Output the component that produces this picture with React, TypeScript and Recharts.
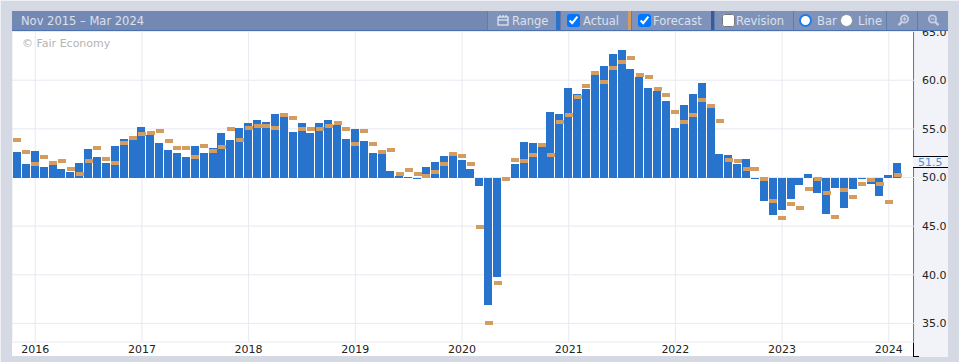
import { Bar, CartesianGrid, ComposedChart, Line, ReferenceLine, XAxis, YAxis } from 'recharts'

const months = [
  '2015-11', '2015-12',
  '2016-01', '2016-02', '2016-03', '2016-04', '2016-05', '2016-06', '2016-07', '2016-08', '2016-09', '2016-10', '2016-11', '2016-12',
  '2017-01', '2017-02', '2017-03', '2017-04', '2017-05', '2017-06', '2017-07', '2017-08', '2017-09', '2017-10', '2017-11', '2017-12',
  '2018-01', '2018-02', '2018-03', '2018-04', '2018-05', '2018-06', '2018-07', '2018-08', '2018-09', '2018-10', '2018-11', '2018-12',
  '2019-01', '2019-02', '2019-03', '2019-04', '2019-05', '2019-06', '2019-07', '2019-08', '2019-09', '2019-10', '2019-11', '2019-12',
  '2020-01', '2020-02', '2020-03', '2020-04', '2020-05', '2020-06', '2020-07', '2020-08', '2020-09', '2020-10', '2020-11', '2020-12',
  '2021-01', '2021-02', '2021-03', '2021-04', '2021-05', '2021-06', '2021-07', '2021-08', '2021-09', '2021-10', '2021-11', '2021-12',
  '2022-01', '2022-02', '2022-03', '2022-04', '2022-05', '2022-06', '2022-07', '2022-08', '2022-09', '2022-10', '2022-11', '2022-12',
  '2023-01', '2023-02', '2023-03', '2023-04', '2023-05', '2023-06', '2023-07', '2023-08', '2023-09', '2023-10', '2023-11', '2023-12',
  '2024-01', '2024-02', '2024-03',
]

const actual = [
  52.6, 51.4,
  52.7, 51.1, 51.3, 50.9, 50.6, 51.5, 52.9, 52.1, 51.5, 53.2, 54.0, 53.9,
  55.2, 54.4, 53.5, 52.8, 52.5, 52.1, 53.2, 52.5, 53.0, 54.6, 53.9, 55.1,
  55.6, 55.9, 55.7, 56.5, 56.2, 54.7, 55.6, 54.6, 55.6, 55.9, 55.4, 54.0,
  55.0, 53.8, 52.5, 52.4, 50.7, 50.2, 50.1, 49.9, 51.1, 51.6, 52.2, 52.2,
  51.8, 50.9, 49.1, 36.9, 39.8, 49.6, 51.4, 53.6, 53.5, 53.1, 56.7, 56.5,
  59.2, 58.6, 59.1, 60.5, 61.5, 62.7, 63.1, 61.2, 60.3, 59.2, 58.9, 57.9,
  55.1, 57.5, 58.6, 59.7, 57.2, 52.4, 52.3, 51.4, 51.9, 49.8, 47.6, 46.1,
  46.7, 47.8, 49.2, 50.4, 48.4, 46.2, 48.9, 46.9, 48.8, 49.9, 49.3, 48.1,
  50.3, 51.5, null,
]

const forecast = [
  53.9, 52.6,
  51.4, 52.1, 51.5, 51.7, 50.9, 50.4, 51.7, 53.0, 51.9, 51.5, 53.5, 54.1,
  54.5, 54.6, 54.8, 53.8, 53.0, 53.0, 52.1, 53.2, 52.7, 53.1, 55.0, 53.9,
  55.1, 55.3, 55.3, 55.1, 56.4, 56.1, 55.0, 55.0, 55.0, 55.3, 55.6, 55.0,
  53.4, 54.8, 53.4, 52.6, 52.8, 50.4, 50.8, 50.4, 50.2, 50.6, 51.4, 52.4,
  52.2, 51.4, 44.9, 35.0, 39.2, 49.8, 51.8, 51.7, 52.3, 53.3, 52.3, 55.7,
  56.4, 58.3, 59.4, 60.7, 59.8, 61.3, 61.9, 62.3, 60.5, 60.3, 59.1, 58.5,
  56.7, 55.7, 56.4, 58.0, 57.4, 55.8, 51.8, 51.7, 50.9, 50.9, 49.8, 47.6,
  45.8, 47.3, 46.9, 48.8, 49.8, 48.4, 45.9, 48.7, 48.0, 49.3, 49.7, 49.3,
  47.5, 50.3, null,
]

const yearTicks = ['2016-01', '2017-01', '2018-01', '2019-01', '2020-01', '2021-01', '2022-01', '2023-01', '2024-01']
const valueTicks = [35, 40, 45, 50, 55, 60, 65]
const baseValue = 50
const lastValue = 51.5

const tableData = months.map((month, index) => ({
  month,
  actualRange:
    actual[index] === null ? null : [Math.min(baseValue, actual[index]), Math.max(baseValue, actual[index])],
  forecast: forecast[index],
}))

const FONT = '"DejaVu Sans", sans-serif'
const HEADER_TEXT = '#dbe1ec'

// snap to whole pixels, the original bars have crisp edges
function CrispBar(props: any) {
  const { x, y, width, height } = props
  if (height == null || width == null) return null
  const top = Math.round(y)
  const bottom = Math.round(y + height)
  return <rect x={Math.round(x)} y={top} width={8} height={Math.max(bottom - top, 1)} fill="#2874cd" />
}

function ForecastMark(props: any) {
  const { cx, cy, index } = props
  if (cy == null) return <g key={index} />
  return <rect key={index} x={Math.round(cx - 4)} y={Math.round(cy - 2)} width={8} height={4} fill="#d59c5f" />
}

function LastValueLabel(props: any) {
  const { viewBox } = props
  const left = viewBox.x + viewBox.width - 1
  const y = Math.round(viewBox.y)
  return (
    <g>
      <rect x={left} y={y - 7} width={35} height={11} fill="#f2f3f8" />
      <line x1={left} x2={left + 35} y1={y - 6.5} y2={y - 6.5} stroke="#000" />
      <line x1={left} x2={left + 35} y1={y + 4.5} y2={y + 4.5} stroke="#000" />
      <text x={left + 5} y={y + 3} fontSize={11} fill="#4a90d9" fontFamily={FONT}>
        {lastValue.toFixed(1)}
      </text>
    </g>
  )
}

function Label({ x, children, color = HEADER_TEXT }: { x: number; children: string; color?: string }) {
  return (
    <span style={{ position: 'absolute', left: x, top: 3, fontSize: 11.5, lineHeight: '14px', color, whiteSpace: 'nowrap' }}>
      {children}
    </span>
  )
}

function Segment({ x, width, color = '#7f93ba' }: { x: number; width: number; color?: string }) {
  return <div style={{ position: 'absolute', left: x, top: 0, width, height: 19, background: color, borderLeft: '1px solid #5f7cab', boxSizing: 'border-box' }} />
}

function Swatch({ x, width, color }: { x: number; width: number; color: string }) {
  return <div style={{ position: 'absolute', left: x, top: 0, width, height: 19, background: color }} />
}

function Check({ x, checked }: { x: number; checked: boolean }) {
  return (
    <input
      type="checkbox"
      checked={checked}
      readOnly
      style={{ position: 'absolute', left: x, top: 3, width: 13, height: 13, margin: 0 }}
    />
  )
}

function Dot({ x, ring, border }: { x: number; ring: string; border: number }) {
  return (
    <div style={{ position: 'absolute', left: x, top: 3, width: 13, height: 13, boxSizing: 'border-box', borderRadius: '50%', background: '#fff', border: `${border}px solid ${ring}` }} />
  )
}

function Magnifier({ x, plus }: { x: number; plus: boolean }) {
  return (
    <svg style={{ position: 'absolute', left: x, top: 3, transform: plus ? undefined : 'scaleX(-1)' }} width={13} height={13} viewBox="0 0 13 13">
      <circle cx={7.5} cy={5} r={3.6} fill="none" stroke="#c6d0e2" strokeWidth={1.8} />
      <line x1={4.8} y1={7.8} x2={1.5} y2={11.2} stroke="#c6d0e2" strokeWidth={2.4} />
      <line x1={5.6} y1={5} x2={9.4} y2={5} stroke="#c6d0e2" strokeWidth={1.2} />
      {plus && <line x1={7.5} y1={3.1} x2={7.5} y2={6.9} stroke="#c6d0e2" strokeWidth={1.2} />}
    </svg>
  )
}

function HeaderBar() {
  return (
    <div style={{ position: 'absolute', left: 12, top: 11, width: 936, height: 20, background: '#7389b3', borderBottom: '1px solid #4a70b0', boxSizing: 'border-box', zIndex: 3, fontFamily: FONT }}>
      <Label x={9}>Nov 2015 – Mar 2024</Label>

      <Segment x={475} width={69} />
      <svg style={{ position: 'absolute', left: 485, top: 3 }} width={12} height={12} viewBox="0 0 12 12">
        <rect x={1} y={3} width={10} height={8} fill="none" stroke="#e6eaf2" strokeWidth={1.2} />
        <line x1={1} y1={6} x2={11} y2={6} stroke="#e6eaf2" strokeWidth={1.2} />
        <line x1={3} y1={1} x2={3} y2={3} stroke="#e6eaf2" strokeWidth={1.2} />
        <line x1={6} y1={1} x2={6} y2={3} stroke="#e6eaf2" strokeWidth={1.2} />
        <line x1={9} y1={1} x2={9} y2={3} stroke="#e6eaf2" strokeWidth={1.2} />
      </svg>
      <Label x={500}>Range</Label>

      <Swatch x={544} width={4} color="#2874cd" />
      <Segment x={548} width={68} />
      <Check x={555} checked />
      <Label x={571}>Actual</Label>

      <Swatch x={616} width={3} color="#d59c5f" />
      <Segment x={619} width={80} />
      <Check x={626} checked />
      <Label x={641}>Forecast</Label>

      <Swatch x={699} width={3} color="#3a5a9c" />
      <Segment x={702} width={79} />
      <Check x={710} checked={false} />
      <Label x={724}>Revision</Label>

      <Segment x={781} width={94} />
      <Dot x={787} ring="#1f7ae8" border={2} />
      <Label x={805}>Bar</Label>
      <Dot x={828} ring="#8a8f9a" border={1} />
      <Label x={846}>Line</Label>

      <Segment x={874} width={31} />
      <Magnifier x={885} plus />
      <Segment x={905} width={31} />
      <Magnifier x={915} plus={false} />
    </div>
  )
}

export default function App() {
  return (
    <div style={{ position: 'fixed', left: 0, top: 0, width: 959, height: 362, background: '#d5d9e3', overflow: 'hidden', fontFamily: FONT }}>
      <div style={{ position: 'absolute', left: 0, top: 0, width: 959, height: 1, background: '#eef0f4' }} />
      <div style={{ position: 'absolute', left: 0, top: 0, width: 1, height: 362, background: '#eef0f4' }} />
      <div style={{ position: 'absolute', left: 12, top: 31, width: 902, height: 325, background: '#fff' }} />
      <div style={{ position: 'absolute', left: 913, top: 31, width: 35, height: 326, background: '#f2f3f8', borderLeft: '1px solid #000', boxSizing: 'border-box' }} />
      <div style={{ position: 'absolute', left: 913, top: 356, width: 6, height: 1, background: '#000', zIndex: 2 }} />

      <div style={{ position: 'absolute', left: 12, top: 31, zIndex: 1 }}>
        <ComposedChart width={936} height={325} data={tableData} margin={{ top: 0, right: 0, bottom: 0, left: 0 }} barCategoryGap={0}>
          <CartesianGrid stroke="#e8e9f2" strokeWidth={1} />
          <XAxis
            dataKey="month"
            ticks={yearTicks}
            interval={0}
            height={14}
            padding={{ left: 1, right: 3 }}
            tickFormatter={(value: string) => value.slice(0, 4)}
            axisLine={false}
            tickLine={false}
            tickSize={0}
            tickMargin={3}
            tick={{ fontSize: 11, fill: '#222', fontFamily: FONT }}
          />
          <YAxis
            orientation="right"
            width={34}
            domain={[33.09, 65.06]}
            allowDataOverflow
            ticks={valueTicks}
            interval={0}
            tickFormatter={(value: number) => value.toFixed(1)}
            axisLine={false}
            tickLine={false}
            tick={{ fontSize: 11, fill: '#222', fontFamily: FONT }}
          />
          <Bar dataKey="actualRange" barSize={8} shape={CrispBar} isAnimationActive={false} />
          <Line dataKey="forecast" stroke="none" dot={ForecastMark} activeDot={false} isAnimationActive={false} />
          <ReferenceLine y={lastValue} stroke="none" label={LastValueLabel} />
        </ComposedChart>
      </div>

      <div style={{ position: 'absolute', left: 22, top: 37, fontSize: 11, lineHeight: '14px', color: '#b4b4b4', zIndex: 2 }}>© Fair Economy</div>
      <HeaderBar />
    </div>
  )
}
